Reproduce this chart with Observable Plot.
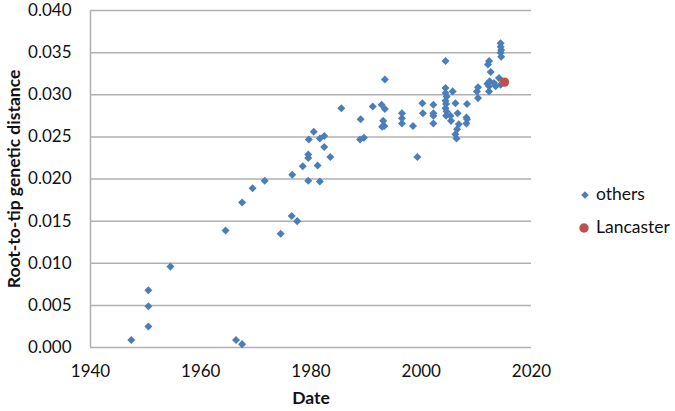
<!DOCTYPE html>
<html>
<head>
<meta charset="utf-8">
<script src="https://cdn.jsdelivr.net/npm/d3@7"></script>
<script src="https://cdn.jsdelivr.net/npm/@observablehq/plot@0.6"></script>
<style>
  html, body { margin: 0; padding: 0; background: #fff; }
  #wrap { position: relative; width: 675px; height: 411px; font-family: Lato, "Open Sans", sans-serif; }
  .leg { position: absolute; font-size: 17.5px; color: #111; line-height: 1; }
  .leg svg { position: absolute; }
</style>
</head>
<body>
<div id="wrap"></div>
<script>
// ---- data ----
const otherYears = [
  1947.4, 1950.5, 1950.5, 1950.5, 1954.5, 1964.5, 1966.4, 1967.5, 1967.5, 1969.4,
  1971.6, 1974.5, 1976.5, 1977.5, 1976.6, 1978.5, 1979.5, 1979.5, 1979.5, 1979.6,
  1980.5, 1981.2, 1981.6, 1981.6, 1982.4, 1982.4, 1983.5, 1985.5, 1989.0, 1988.9,
  1989.6, 1991.2, 1992.8, 1993.4, 1993.4, 1993.1, 1992.9, 1993.3, 1996.5, 1996.5,
  1996.5, 1998.5, 1999.3, 2000.2, 2000.3, 2002.2, 2002.2, 2002.2, 2002.2, 2004.4,
  2004.4, 2004.4, 2004.6, 2004.4, 2004.5, 2004.4, 2004.6, 2004.5, 2005.3, 2005.4,
  2005.7, 2006.2, 2006.6, 2006.8, 2006.5, 2006.2, 2006.4, 2008.3, 2008.2, 2008.3,
  2008.2, 2010.3, 2010.1, 2010.3, 2012.3, 2012.3, 2012.0, 2012.4, 2012.6, 2012.1,
  2012.3, 2013.2, 2013.5, 2014.1, 2014.4, 2014.4, 2014.4, 2014.5, 2014.4, 2014.5
];
const otherValues = [
  0.0009, 0.0025, 0.0049, 0.0068, 0.0096, 0.0139, 0.0009, 0.0004, 0.0172, 0.0189,
  0.0198, 0.0135, 0.0156, 0.0150, 0.0205, 0.0215, 0.0198, 0.0225, 0.0229, 0.0247,
  0.0256, 0.0216, 0.0197, 0.0248, 0.0238, 0.0251, 0.0226, 0.0284, 0.0271, 0.0247,
  0.0249, 0.0286, 0.0288, 0.0283, 0.0318, 0.0269, 0.0262, 0.0263, 0.0278, 0.0272,
  0.0266, 0.0263, 0.0226, 0.0290, 0.0278, 0.0288, 0.0278, 0.0275, 0.0266, 0.0340,
  0.0308, 0.0302, 0.0298, 0.0293, 0.0289, 0.0284, 0.0280, 0.0275, 0.0275, 0.0269,
  0.0304, 0.0290, 0.0278, 0.0265, 0.0259, 0.0253, 0.0248, 0.0289, 0.0273, 0.0271,
  0.0266, 0.0296, 0.0304, 0.0309, 0.0304, 0.0310, 0.0313, 0.0316, 0.0327, 0.0336,
  0.0340, 0.0314, 0.0310, 0.0320, 0.0312, 0.0361, 0.0357, 0.0353, 0.0350, 0.0345
];
const lancasterYears = [2015.1];
const lancasterValues = [0.0315];

const xTicks = [1940, 1960, 1980, 2000, 2020];
const yTicks = [0, 0.005, 0.010, 0.015, 0.020, 0.025, 0.030, 0.035, 0.040];
const seriesNames = ["others", "Lancaster"];
const xTitle = "Date";
const yTitle = "Root-to-tip genetic distance";

// ---- build ----
const others = otherYears.map((x, i) => ({x, y: otherValues[i]}));
const lancaster = lancasterYears.map((x, i) => ({x, y: lancasterValues[i]}));

const blue = "#4a7ebb";
const red = "#c0504d";
const grid = "#b0b0b0";

const chart = Plot.plot({
  width: 675,
  height: 411,
  marginLeft: 90,
  marginRight: 144,
  marginTop: 10,
  marginBottom: 64,
  style: {fontFamily: "Lato, 'Open Sans', sans-serif", fontSize: "17px", color: "#111", background: "#fff", overflow: "visible"},
  x: {domain: [xTicks[0], xTicks[xTicks.length - 1]]},
  y: {domain: [yTicks[0], yTicks[yTicks.length - 1]]},
  marks: [
    Plot.gridY(yTicks, {stroke: grid, strokeOpacity: 1, strokeWidth: 1.5}),
    Plot.ruleX([xTicks[0]], {stroke: grid, strokeWidth: 1.5}),
    Plot.axisY(yTicks, {tickSize: 0, tickPadding: 19, tickFormat: d3.format(".3f"), label: null}),
    Plot.axisX(xTicks, {tickSize: 0, tickPadding: 17, tickFormat: d => String(d), label: null}),
    Plot.text([xTitle], {frameAnchor: "bottom", dy: 56, fontWeight: "bold", fontSize: 17.5}),
    Plot.text([yTitle], {frameAnchor: "left", textAnchor: "middle", dx: -76, rotate: -90, fontWeight: "bold", fontSize: 17.5}),
    Plot.dot(others, {x: "x", y: "y", symbol: "square", rotate: 45, r: 3.2, fill: blue, stroke: null}),
    Plot.dot(lancaster, {x: "x", y: "y", symbol: "circle", r: 4.7, fill: red, stroke: null})
  ]
});
const wrap = document.getElementById("wrap");
wrap.appendChild(chart);

// legend
const legItems = [
  {name: seriesNames[0], top: 195, cx: 585, sym: "diamond", color: blue},
  {name: seriesNames[1], top: 228, cx: 584, sym: "circle", color: red}
];
for (const it of legItems) {
  const svgNS = "http://www.w3.org/2000/svg";
  const s = document.createElementNS(svgNS, "svg");
  s.setAttribute("width", 14); s.setAttribute("height", 14);
  s.style.position = "absolute";
  s.style.left = (it.cx - 7) + "px";
  s.style.top = (it.top - 7) + "px";
  if (it.sym === "diamond") {
    const p = document.createElementNS(svgNS, "path");
    p.setAttribute("d", "M7,3.2L10.8,7L7,10.8L3.2,7Z");
    p.setAttribute("fill", it.color);
    s.appendChild(p);
  } else {
    const c = document.createElementNS(svgNS, "circle");
    c.setAttribute("cx", 7); c.setAttribute("cy", 7); c.setAttribute("r", 4.7);
    c.setAttribute("fill", it.color);
    s.appendChild(c);
  }
  wrap.appendChild(s);
  const t = document.createElement("div");
  t.className = "leg";
  t.textContent = it.name;
  t.style.left = "596px";
  t.style.top = (it.top - 10) + "px";
  wrap.appendChild(t);
}
</script>
</body>
</html>
